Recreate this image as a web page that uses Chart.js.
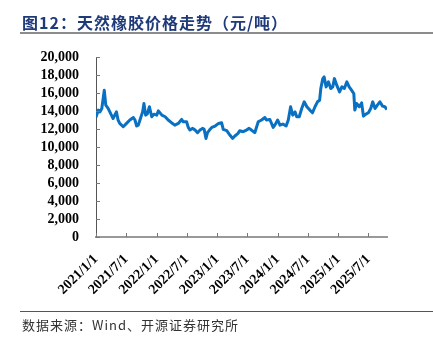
<!DOCTYPE html>
<html>
<head>
<meta charset="utf-8">
<script src="https://cdn.jsdelivr.net/npm/chart.js@4.4.1/dist/chart.umd.min.js"></script>
<style>
  body { margin: 0; background: #fff; }
  #wrap { position: relative; width: 433px; height: 343px; overflow: hidden; }
  #chart { position: absolute; left: 0; top: 0; }
  .title {
    position: absolute; left: 22px; top: 10px;
    font-family: "Noto Sans CJK SC", sans-serif; font-weight: bold;
    font-size: 16px; letter-spacing: 1px; color: #1f3a78; white-space: nowrap;
  }
  .topline { position: absolute; left: 20px; top: 32px; width: 413px; height: 2px; background: #8c8c8c; }
  .bottomline { position: absolute; left: 20px; top: 311px; width: 413px; height: 1px; background: #555; }
  .source {
    position: absolute; left: 22px; top: 315px;
    font-family: "Noto Sans CJK SC", sans-serif; font-size: 13px;
    letter-spacing: 1px; color: #333; white-space: nowrap;
  }
</style>
</head>
<body>
<div id="wrap">
  <canvas id="chart" width="433" height="343"></canvas>
  <div class="title">图12：天然橡胶价格走势（元/吨）</div>
  <div class="topline"></div>
  <div class="bottomline"></div>
  <div class="source">数据来源：Wind、开源证券研究所</div>
</div>
<script>
// rubber price, 元/吨
const dates = [
  '2021-01-01','2021-01-15','2021-01-25','2021-02-05','2021-02-20','2021-03-01','2021-03-15','2021-04-04',
  '2021-04-14','2021-04-24','2021-05-04','2021-05-14','2021-05-24','2021-06-14','2021-07-04','2021-07-24',
  '2021-08-14','2021-08-24','2021-09-03','2021-09-13','2021-09-23','2021-10-09','2021-10-17','2021-10-27',
  '2021-11-07','2021-11-19','2021-12-03','2021-12-16','2022-01-02','2022-01-12','2022-02-02','2022-02-22',
  '2022-03-12','2022-04-01','2022-04-21','2022-05-12','2022-06-01','2022-06-11','2022-07-01','2022-07-11',
  '2022-07-21','2022-08-07','2022-08-21','2022-09-05','2022-09-20','2022-10-05','2022-10-15','2022-10-26',
  '2022-11-04','2022-11-16','2022-11-30','2022-12-20','2023-01-10','2023-01-28','2023-02-07','2023-02-28',
  '2023-03-19','2023-04-04','2023-04-18','2023-05-07','2023-05-17','2023-06-07','2023-06-27','2023-07-13',
  '2023-07-27','2023-08-16','2023-09-06','2023-09-26','2023-10-16','2023-10-25','2023-11-15','2023-12-05',
  '2023-12-15','2024-01-01','2024-01-15','2024-02-01','2024-02-21','2024-03-05','2024-03-19','2024-04-01',
  '2024-04-15','2024-04-25','2024-05-10','2024-05-25','2024-06-09','2024-06-25','2024-07-13','2024-07-29',
  '2024-08-13','2024-08-28','2024-09-10','2024-09-17','2024-09-29','2024-10-07','2024-10-19','2024-11-02',
  '2024-11-16','2024-11-28','2024-12-08','2024-12-22','2025-01-08','2025-01-22','2025-02-06','2025-02-21',
  '2025-03-07','2025-03-21','2025-04-04','2025-04-10','2025-04-21','2025-05-07','2025-05-21','2025-06-01',
  '2025-06-16','2025-07-01','2025-07-15','2025-07-27','2025-08-10','2025-08-24','2025-09-08','2025-09-24',
  '2025-10-08','2025-10-21'
];
const prices = [
  13300, 14100, 13900, 14280, 16300, 14650, 14300, 13540,
  13170, 13540, 13900, 13000, 12620, 12250, 12620, 13000,
  13280, 13000, 12330, 12430, 13000, 13900, 14830, 13540,
  13700, 14470, 13360, 13650, 13540, 14020, 13540, 13360,
  13000, 12700, 12430, 12620, 13060, 12800, 12800, 12180,
  11880, 12070, 11880, 11590, 11880, 12070, 11960, 10950,
  11600, 11880, 12180, 12330, 12620, 12700, 11960, 11810,
  11330, 10960, 11220, 11510, 11810, 11700, 11880, 12070,
  11880, 11590, 12800, 13000, 13280, 13000, 13060, 12180,
  12430, 13000, 12430, 12550, 12330, 13000, 14470, 13540,
  13900, 13360, 13360, 14280, 15020, 14470, 14100, 13800,
  14470, 15020, 15200, 16500, 17600, 17790, 16680, 17240,
  16500, 16680, 17600, 16870, 16130, 16680, 16500, 17240,
  16680, 16310, 15940, 14100, 14830, 14470, 14900, 13430,
  13650, 13800, 14280, 15020, 14280, 14650, 15020, 14540,
  14470, 14170
];
const tickLabels = ['2021/1/1','2021/7/1','2022/1/1','2022/7/1','2023/1/1','2023/7/1','2024/1/1','2024/7/1','2025/1/1','2025/7/1'];
const yTicks = [0, 2000, 4000, 6000, 8000, 10000, 12000, 14000, 16000, 18000, 20000];

// x is days since 2021-01-01
const start = Date.UTC(2021, 0, 1);
function dayOf(s) {
  const p = s.split(/[-\/]/).map(Number);
  return (Date.UTC(p[0], p[1] - 1, p[2]) - start) / 86400000;
}
const points = dates.map((d, i) => ({ x: dayOf(d), y: prices[i] }));
const tickDays = tickLabels.map(dayOf);

const tickFont = { family: '"Liberation Serif", "Times New Roman", serif', size: 14, weight: 'bold' };

// small inward tick marks like the original
const innerTicks = {
  id: 'innerTicks',
  afterDraw(chart) {
    const ctx = chart.ctx;
    const xs = chart.scales.x, ys = chart.scales.y;
    ctx.save();
    ctx.strokeStyle = '#777';
    ctx.lineWidth = 1;
    ctx.beginPath();
    tickDays.forEach(d => {
      const px = Math.round(xs.getPixelForValue(d)) + 0.5;
      ctx.moveTo(px, ys.bottom);
      ctx.lineTo(px, ys.bottom - 4);
    });
    yTicks.forEach(v => {
      const py = Math.round(ys.getPixelForValue(v)) + 0.5;
      ctx.moveTo(xs.left, py);
      ctx.lineTo(xs.left + 4, py);
    });
    ctx.stroke();
    ctx.restore();
  }
};

new Chart(document.getElementById('chart'), {
  type: 'line',
  data: {
    datasets: [{
      data: points,
      borderColor: '#0a70c2',
      borderWidth: 3,
      borderJoinStyle: 'round',
      pointRadius: 0,
      tension: 0,
      fill: false
    }]
  },
  options: {
    responsive: false,
    animation: false,
    layout: { padding: { left: 0, right: 46, top: 57, bottom: 0 } },
    plugins: { legend: { display: false }, tooltip: { enabled: false } },
    scales: {
      x: {
        type: 'linear',
        min: 0,
        max: points[points.length - 1].x,
        afterBuildTicks: (scale) => { scale.ticks = tickDays.map(v => ({ value: v })); },
        afterFit: (scale) => { scale.height = 106; },
        grid: { display: false, drawTicks: false },
        border: { display: true, color: '#999', width: 2 },
        ticks: {
          autoSkip: false,
          minRotation: 45,
          maxRotation: 45,
          padding: 14,
          color: '#000',
          font: tickFont,
          callback: (v) => tickLabels[tickDays.indexOf(v)]
        }
      },
      y: {
        min: 0,
        max: 20000,
        afterBuildTicks: (scale) => { scale.ticks = yTicks.map(v => ({ value: v })); },
        afterFit: (scale) => { scale.width = 96; },
        grid: { display: false, drawTicks: false },
        border: { display: true, color: '#555', width: 1 },
        ticks: {
          autoSkip: false,
          padding: 17,
          color: '#000',
          font: tickFont,
          callback: (v) => v.toLocaleString('en-US')
        }
      }
    }
  },
  plugins: [innerTicks]
});
</script>
</body>
</html>
